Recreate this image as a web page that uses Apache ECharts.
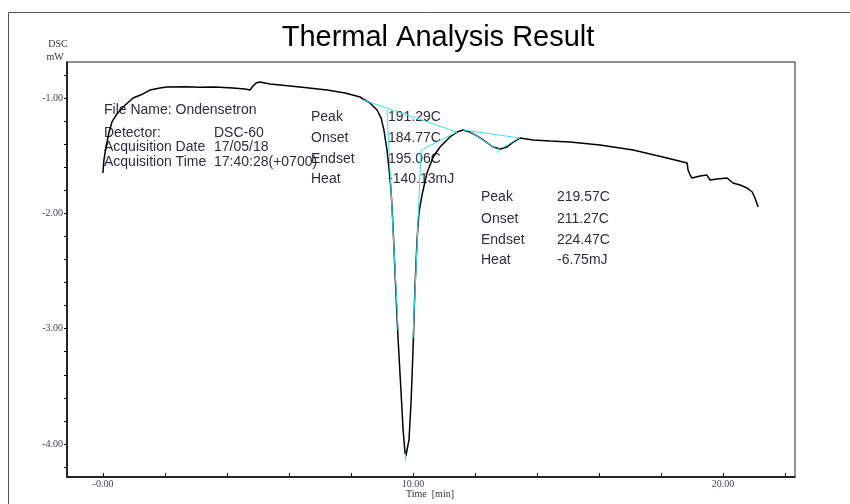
<!DOCTYPE html>
<html>
<head>
<meta charset="utf-8">
<script src="https://cdn.jsdelivr.net/npm/echarts@6/dist/echarts.min.js"></script>
<style>
html,body{margin:0;padding:0;background:#fff;}
#chart{width:850px;height:504px;}
</style>
</head>
<body>
<div id="chart"></div>
<script>
// ---- Data (time [min], DSC [mW]) ----
var dscCurve = [
  [0.00,-1.650],[0.03,-1.538],[0.10,-1.425],[0.19,-1.303],[0.29,-1.208],[0.45,-1.139],
  [0.65,-1.078],[0.97,-1.000],[1.29,-0.965],[1.52,-0.931],[1.84,-0.913],[2.06,-0.905],
  [2.65,-0.903],[3.13,-0.906],[3.61,-0.904],[4.19,-0.913],[4.58,-0.922],[4.74,-0.931],
  [4.84,-0.896],[4.94,-0.870],[5.06,-0.861],[5.39,-0.879],[5.71,-0.887],[6.35,-0.905],
  [7.23,-0.931],[7.81,-0.957],[8.29,-0.991],[8.39,-1.009],[8.61,-1.043],[8.84,-1.104],
  [8.97,-1.173],[9.06,-1.277],[9.16,-1.451],[9.23,-1.624],[9.29,-1.798],[9.35,-2.084],
  [9.42,-2.517],[9.52,-3.098],[9.61,-3.532],[9.68,-3.879],[9.74,-4.069],[9.77,-4.104],
  [9.81,-4.095],[9.87,-3.965],[9.94,-3.619],[10.00,-3.185],[10.06,-2.665],[10.13,-2.231],
  [10.19,-1.997],[10.29,-1.841],[10.45,-1.650],[10.65,-1.512],[10.87,-1.425],[11.19,-1.338],
  [11.42,-1.295],[11.61,-1.277],[11.84,-1.295],[12.06,-1.329],[12.26,-1.364],[12.58,-1.425],
  [12.81,-1.442],[13.03,-1.425],[13.23,-1.382],[13.45,-1.347],[13.87,-1.364],[14.42,-1.373],
  [15.06,-1.382],[16.03,-1.408],[17.10,-1.451],[18.19,-1.520],[18.84,-1.564],[18.87,-1.624],
  [18.94,-1.668],[19.00,-1.694],[19.26,-1.676],[19.48,-1.668],[19.58,-1.711],[19.81,-1.702],
  [20.13,-1.694],[20.32,-1.737],[20.55,-1.754],[20.77,-1.780],[20.94,-1.815],[21.03,-1.867],
  [21.13,-1.945]
];
// analysis construction lines (cyan)
var baseline1 = [[8.39,-1.017],[11.42,-1.295]];
var baseline2 = [[11.61,-1.277],[13.45,-1.347]];
var onsetTangent1 = [[9.16,-1.104],[9.52,-3.012]];
var endsetTangent1 = [[10.00,-3.081],[10.26,-1.451],[11.42,-1.295]];
var peakMark1 = [[9.76,-4.08],[9.76,-4.15]];
var tangent2a = [[11.84,-1.290],[12.71,-1.446]];
var tangent2b = [[12.90,-1.430],[13.45,-1.342]];
var peakMark2 = [[12.77,-1.43],[12.77,-1.48]];

var xTickValues = [0,2,4,6,8,10,12,14,16,18,20,22];
var xLabelValues = [0,10,20];
var xLabelTexts = ['-0.00','10.00','20.00'];
var yTickValues = [-4.2,-4.0,-3.8,-3.6,-3.4,-3.2,-3.0,-2.8,-2.6,-2.4,-2.2,-2.0,-1.8,-1.6,-1.4,-1.2,-1.0,-0.8];
var yLabelValues = [-4,-3,-2,-1];
var yLabelTexts = ['-4.00','-3.00','-2.00','-1.00'];

var titleText = 'Thermal Analysis Result';
var xAxisName = 'Time  [min]';
var infoLabels = ['Detector:','Acquisition Date','Acquisition Time'];
var infoValues = ['DSC-60','17/05/18','17:40:28(+0700)'];
var fileNameText = 'File Name: Ondensetron';
var peakLabels = ['Peak','Onset','Endset','Heat'];
var peak1Values = ['191.29C','184.77C','195.06C','-140.13mJ'];
var peak2Values = ['219.57C','211.27C','224.47C','-6.75mJ'];

// ---- Chart ----
var chart = echarts.init(document.getElementById('chart'), null, {renderer:'canvas'});
var sans = '"Liberation Sans", Arial, sans-serif';
var serif = '"Liberation Serif", "Times New Roman", serif';
var txtColor = '#2e2e3a';

function txt(x, y, s, size, font, color, align) {
  return {type:'text', x:x, y:y, silent:true, style:{text:s, fill:color||txtColor, font: (size||14)+'px '+(font||sans), textAlign:align||'left', textVerticalAlign:'middle'}};
}
var graphics = [
  {type:'rect', shape:{x:8.5, y:12.5, width:900, height:600}, style:{fill:'none', stroke:'#555', lineWidth:1}, silent:true, z:-10},
  txt(438, 38, titleText, 29, sans, '#000', 'center'),
  txt(58, 44, 'DSC', 10, serif, '#333', 'center'),
  txt(55, 57, 'mW', 10, serif, '#333', 'center'),
  txt(430, 494, xAxisName, 10, serif, '#333', 'center'),
  txt(104, 110, fileNameText)
];
var infoY = [133,147,162];
for (var i=0;i<infoLabels.length;i++){
  graphics.push(txt(104, infoY[i], infoLabels[i]));
  graphics.push(txt(214, infoY[i], infoValues[i]));
}
var p1Y = [117,138,159,179];
var p2Y = [197,219,240,260];
for (var j=0;j<peakLabels.length;j++){
  graphics.push(txt(311, p1Y[j], peakLabels[j]));
  graphics.push(txt(388, p1Y[j], peak1Values[j]));
  graphics.push(txt(481, p2Y[j], peakLabels[j]));
  graphics.push(txt(557, p2Y[j], peak2Values[j]));
}

function cyan(d){
  return {type:'line', data:d, showSymbol:false, silent:true, z:5, animation:false,
    lineStyle:{color:'#38e4f0', width:1}};
}

chart.setOption({
  animation:false,
  backgroundColor:'#fff',
  grid:{left:67, top:62, right:55, bottom:27, outerBoundsMode:'none', containLabel:false,
    show:true, borderColor:'#222', borderWidth:1},
  xAxis:{
    type:'value', min:-1.16, max:22.32,
    axisLine:{show:true, onZero:false, lineStyle:{color:'#000', width:1.5}},
    axisTick:{show:true, inside:true, length:4, customValues:xTickValues, lineStyle:{color:'#000'}},
    axisLabel:{show:true, margin:2, customValues:xLabelValues, fontFamily:serif, fontSize:10, color:'#445',
      formatter:function(v){ var k = xLabelValues.indexOf(v); return k>=0 ? xLabelTexts[k] : ''; }},
    splitLine:{show:false}
  },
  yAxis:{
    type:'value', min:-4.286, max:-0.688,
    axisLine:{show:true, onZero:false, lineStyle:{color:'#000', width:1.5}},
    axisTick:{show:true, inside:false, length:3, customValues:yTickValues, lineStyle:{color:'#000'}},
    axisLabel:{show:true, margin:4, customValues:yLabelValues, fontFamily:serif, fontSize:10, color:'#445',
      formatter:function(v){ for (var k=0;k<yLabelValues.length;k++){ if (Math.abs(yLabelValues[k]-v)<1e-6) return yLabelTexts[k]; } return ''; }},
    splitLine:{show:false}
  },
  series:[
    {type:'line', data:dscCurve, showSymbol:false, silent:true, z:3, animation:false,
      lineStyle:{color:'#000', width:1.5}},
    cyan(baseline1), cyan(baseline2), cyan(onsetTangent1), cyan(endsetTangent1),
    cyan(peakMark1), cyan(tangent2a), cyan(tangent2b), cyan(peakMark2)
  ],
  graphic:graphics
});
</script>
</body>
</html>
